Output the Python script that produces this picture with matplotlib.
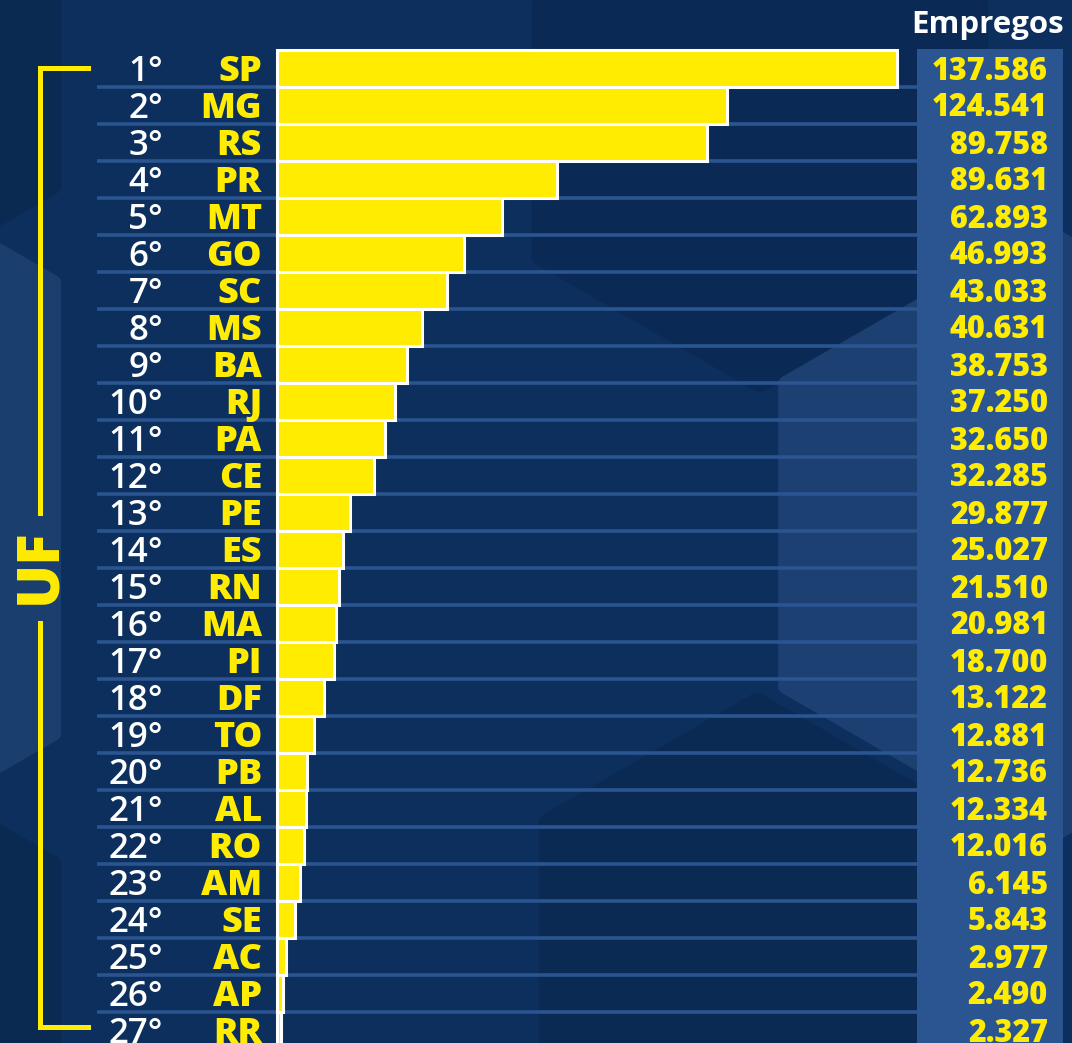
# Ranking de empregos por UF - barras horizontais
import numpy as np
import matplotlib
matplotlib.use("Agg")
import matplotlib.pyplot as plt
from matplotlib.patches import Rectangle, RegularPolygon

# dados
ufs = ["SP", "MG", "RS", "PR", "MT", "GO", "SC", "MS", "BA", "RJ", "PA", "CE", "PE", "ES",
       "RN", "MA", "PI", "DF", "TO", "PB", "AL", "RO", "AM", "SE", "AC", "AP", "RR"]
empregos = [137586, 124541, 89758, 89631, 62893, 46993, 43033, 40631, 38753, 37250, 32650,
            32285, 29877, 25027, 21510, 20981, 18700, 13122, 12881, 12736, 12334, 12016,
            6145, 5843, 2977, 2490, 2327]
# comprimento das barras como aparece na arte (em milhares)
barras = [137.6, 99.9, 95.4, 62.1, 49.9, 41.5, 37.7, 32.2, 28.8, 26.2, 24.0, 21.5, 16.2,
          14.6, 13.8, 13.1, 12.6, 10.4, 8.2, 6.7, 6.4, 6.0, 5.1, 4.0, 2.0, 1.3, 0.9]
titulo_col = "Empregos"
titulo_eixo = "UF"

# cores
fundo = "#0c2f5d"
azul_claro = "#2b5591"
amarelo = "#ffec00"

W, H = 1072, 1043
X0 = 277          # inicio das barras (px)
S = 620 / 137.6   # px por milhar
Y0, P = 68.5, 37  # centro da primeira linha e passo (px)

def dx(px):
    return (px - X0) / S

def dy(py):
    return (py - Y0) / P

fig = plt.figure(figsize=(W / 100, H / 100), dpi=100, facecolor=fundo)
ax = fig.add_axes([0, 0, 1, 1])
ax.patch.set_visible(False)
ax.set_xlim(dx(0), dx(W))
ax.set_ylim(dy(H), dy(0))
ax.axis("off")

# hexagonos de fundo (sutis), em pixels com origem no topo
hexas = [(760, 130, 262, "#0a2a55"),   # escuro topo direita
         (1048, 535, 310, "#1b4071"),  # claro direita
         (757, 943, 250, "#0a2a54"),   # escuro baixo
         (-337, 508, 458, "#1a3f6f"),  # claro esquerda
         (-200, 40, 300, "#0a2a52"),   # escuro topo esquerda
         (-200, 1010, 300, "#0a2a52")] # escuro baixo esquerda
for cx, cy, r, c in hexas:
    hx = RegularPolygon((cx, H - cy), numVertices=6, radius=r - 8, orientation=0,
                        facecolor=c, edgecolor=c, linewidth=12, joinstyle="round",
                        zorder=-1, transform=None)
    fig.patches.append(hx)

# coluna de valores
ax.add_patch(Rectangle((dx(917), dy(49)), dx(1063) - dx(917), dy(H + 5) - dy(49),
                       facecolor=azul_claro, edgecolor="none", zorder=1))

# linhas separadoras
n = len(ufs)
for i in range(n - 1):
    ax.plot([dx(97), dx(917)], [i + 0.5, i + 0.5], color=azul_claro, lw=2.6,
            solid_capstyle="butt", zorder=1)

# barras
y = np.arange(n)
ax.barh(y, barras, height=1.0, left=0, color=amarelo, edgecolor="white",
        linewidth=2.2, zorder=3)

# textos
cap = 12.5 / P
for i in range(n):
    ax.text(dx(163), i + cap, f"{i + 1}°", color="white", ha="right", va="baseline",
            fontsize=25, family="Open Sans", fontweight="semibold", zorder=4)
    ax.text(dx(262), i + cap, ufs[i], color=amarelo, ha="right", va="baseline",
            fontsize=26, family="Open Sans", fontweight="heavy", zorder=4)
    val = f"{empregos[i]:,}".replace(",", ".")
    ax.text(dx(1048), i + 11 / P, val, color=amarelo, ha="right", va="baseline",
            fontsize=22, family="Open Sans", fontweight="heavy", zorder=4)

ax.text(dx(988), dy(23 + 10), titulo_col, color="white", ha="center", va="baseline",
        fontsize=22.5, family="Open Sans", fontweight="bold", zorder=4)

# colchete UF
lw = 3.6
ax.plot([dx(88), dx(40), dx(40)], [dy(68), dy(68), dy(513)], color=amarelo, lw=lw,
        solid_joinstyle="miter", zorder=4)
ax.plot([dx(40), dx(40), dx(88)], [dy(623), dy(1027), dy(1027)], color=amarelo, lw=lw,
        solid_joinstyle="miter", zorder=4)
ax.text(dx(40), dy(566), titulo_eixo, color=amarelo, ha="center", va="center",
        rotation=90, fontsize=42, family="Open Sans", fontweight="heavy", zorder=4)

fig.savefig("out.png", dpi=100, facecolor=fundo)
